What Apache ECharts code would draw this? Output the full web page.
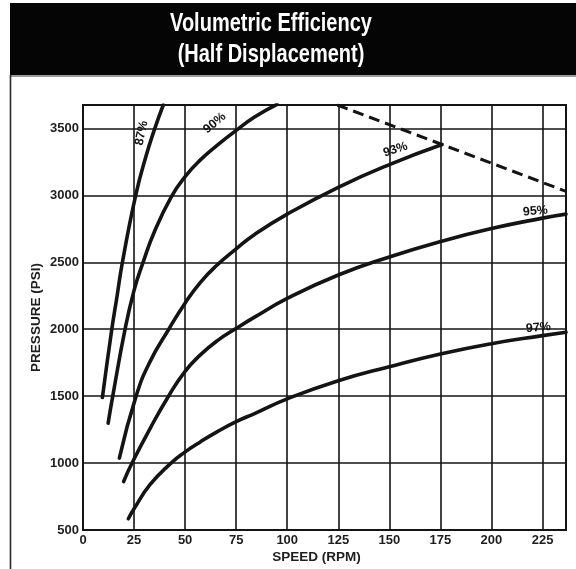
<!DOCTYPE html>
<html>
<head>
<meta charset="utf-8">
<script src="https://cdn.jsdelivr.net/npm/echarts@6/dist/echarts.min.js"></script>
<style>
  html, body { margin: 0; padding: 0; background: #fff; }
  #chart { width: 576px; height: 569px; }
</style>
</head>
<body>
<div id="chart"></div>
<script>
// ---- Data (speed RPM, pressure PSI) ----
const curve87 = [[9.5,1490],[14.1,2000],[16.5,2230],[19.3,2500],[25.8,3000],[30.8,3290],[35,3493],[39.3,3675]];
const curve90 = [[12.3,1298],[14.5,1495],[20.6,2000],[25,2290],[29.2,2490],[35,2730],[43.3,2990],[50,3140],[57.5,3265],[65.8,3375],[75,3485],[84,3585],[95,3680]];
const curve93 = [[17.8,1037],[26,1500],[32.9,1760],[42,2000],[50.2,2200],[57.5,2350],[65,2470],[75,2600],[84.2,2710],[100,2860],[125,3060],[150,3230],[175.8,3380]];
const curve95 = [[19.9,862],[24,1000],[32.9,1260],[41.5,1490],[49.7,1680],[57.6,1810],[65.8,1915],[74.9,2005],[84,2090],[100,2230],[125,2405],[150,2540],[175,2655],[200,2752],[225,2830],[236.5,2860]];
const curve97 = [[22.2,584],[25,659],[32.9,840],[43.1,1000],[49.7,1080],[57.6,1160],[65.8,1235],[75,1310],[84,1370],[100,1480],[125,1615],[150,1720],[175,1815],[200,1892],[225,1952],[236.5,1978]];
const limitLine = [[124.5,3675],[175.8,3380],[236.5,3030]];

const curveNames = ['87%', '90%', '93%', '95%', '97%'];
const curves = [curve87, curve90, curve93, curve95, curve97];

// curve labels: text anchor in data units
const labelX = [28.7, 64.5, 153, 221.5, 223];
const labelY = [3465, 3540, 3342, 2882, 2012];
const labelRotate = [78, 40, 18, 5, 5];

const xTicks = { min: 0, max: 236.5, interval: 25 };
const yTicks = { min: 500, max: 3675, interval: 500 };

const titleLines = ['Volumetric Efficiency', '(Half Displacement)'];
const xName = 'SPEED (RPM)';
const yName = 'PRESSURE (PSI)';

// ---- Chart ----
const chart = echarts.init(document.getElementById('chart'), null, { renderer: 'canvas' });
const ink = '#141414';
const labelFont = { fontFamily: 'Liberation Sans, Arial, sans-serif', fontWeight: 'bold', color: '#1e1e1e' };

const series = curves.map((d, i) => ({
  name: curveNames[i],
  type: 'line',
  data: d,
  smooth: 0.5,
  symbol: 'none',
  clip: true,
  lineStyle: { color: ink, width: 3.6, cap: 'round' },
  z: 3
}));

series.push({
  name: 'limit',
  type: 'line',
  data: limitLine,
  symbol: 'none',
  clip: true,
  lineStyle: { color: ink, width: 3, type: [11, 6] },
  z: 3
});

series.push({
  name: 'labels',
  type: 'scatter',
  symbolSize: 1,
  silent: true,
  itemStyle: { opacity: 0 },
  data: curveNames.map((n, i) => ({
    value: [labelX[i], labelY[i]],
    label: { rotate: labelRotate[i] }
  })),
  label: {
    show: true,
    position: 'inside',
    formatter: p => curveNames[p.dataIndex],
    ...labelFont,
    color: '#111',
    opacity: 1,
    textBorderWidth: 0,
    fontSize: 12.5
  },
  z: 4
});

const titleFont = 'bold 25px "Liberation Sans", Arial, sans-serif';

chart.setOption({
  animation: false,
  backgroundColor: '#fff',
  graphic: [
    { type: 'rect', shape: { x: 10, y: 3, width: 566, height: 72 }, style: { fill: '#050505' }, z: -1 },
    { type: 'line', shape: { x1: 10, y1: 76, x2: 576, y2: 76 }, style: { stroke: '#9a9a9a', lineWidth: 2 }, z: -1 },
    { type: 'line', shape: { x1: 10.5, y1: 75, x2: 10.5, y2: 569 }, style: { stroke: '#2a2a2a', lineWidth: 1.6 }, z: -1 },
    {
      type: 'text', x: 271, y: 24, scaleX: 0.8, z: 10,
      style: { text: titleLines[0], font: titleFont, fill: '#fff', align: 'center', verticalAlign: 'middle' }
    },
    {
      type: 'text', x: 271, y: 55, scaleX: 0.8, z: 10,
      style: { text: titleLines[1], font: titleFont, fill: '#fff', align: 'center', verticalAlign: 'middle' }
    }
  ],
  grid: {
    left: 83, top: 105, right: 10, bottom: 38,
    show: true, borderColor: ink, borderWidth: 2, backgroundColor: 'transparent'
  },
  xAxis: {
    type: 'value',
    min: xTicks.min, max: xTicks.max, interval: xTicks.interval,
    name: xName,
    nameLocation: 'middle',
    nameGap: 20,
    nameMoveOverlap: false,
    nameTextStyle: { ...labelFont, fontSize: 13.5, padding: [0, 16, 0, 0] },
    axisLine: { show: true, lineStyle: { color: ink, width: 2 } },
    axisTick: { show: false },
    axisLabel: { ...labelFont, fontSize: 13, margin: 4, showMaxLabel: false, formatter: v => String(v) },
    splitLine: { show: true, lineStyle: { color: ink, width: 1.6 } }
  },
  yAxis: {
    type: 'value',
    min: yTicks.min, max: yTicks.max, interval: yTicks.interval,
    name: yName,
    nameLocation: 'middle',
    nameRotate: 90,
    nameGap: 40,
    nameMoveOverlap: false,
    nameTextStyle: { ...labelFont, fontSize: 13.5 },
    axisLine: { show: true, lineStyle: { color: ink, width: 2 } },
    axisTick: { show: false },
    axisLabel: { ...labelFont, fontSize: 13, margin: 4, showMaxLabel: false, formatter: v => String(v) },
    splitLine: { show: true, lineStyle: { color: ink, width: 1.6 } }
  },
  series: series
});
</script>
</body>
</html>
